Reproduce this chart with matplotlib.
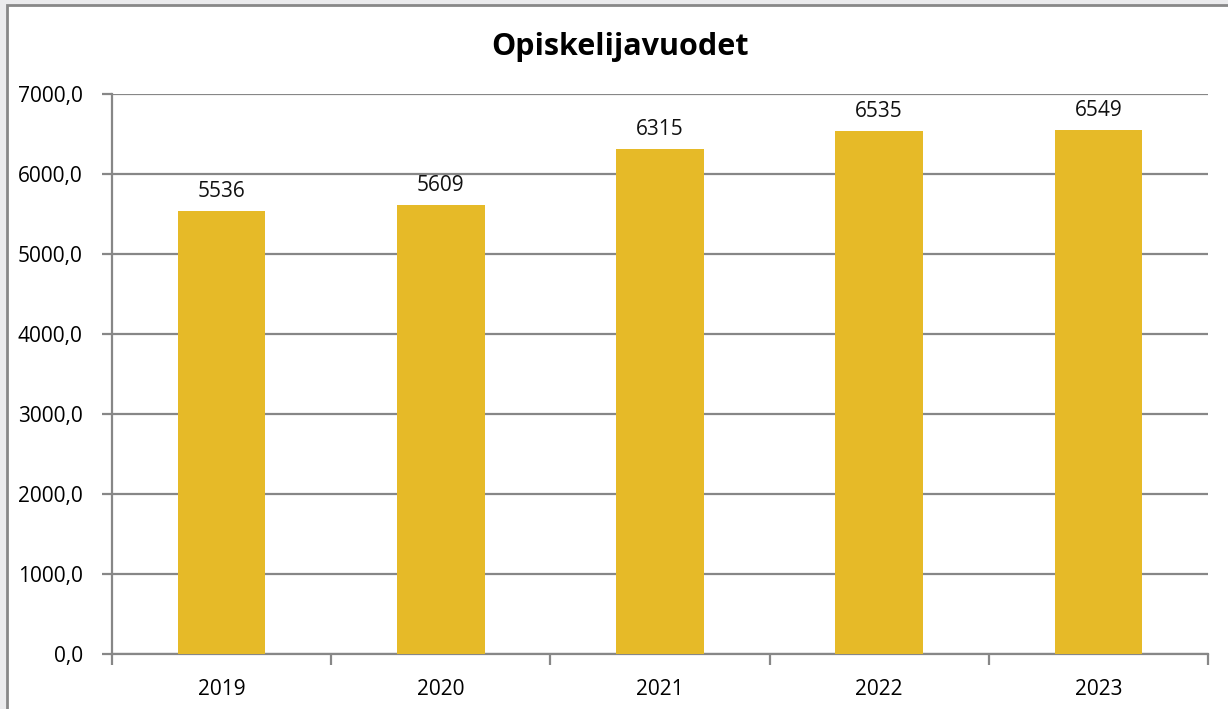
import matplotlib.pyplot as plt
from matplotlib.patches import Rectangle

years = ['2019', '2020', '2021', '2022', '2023']
values = [5536, 5609, 6315, 6535, 6549]
y_ticks = [0, 1000, 2000, 3000, 4000, 5000, 6000, 7000]

plt.rcParams['font.family'] = ['Open Sans', 'DejaVu Sans']

fig = plt.figure(figsize=(12.28, 7.09), dpi=100)
fig.patch.set_facecolor('#EBEBED')

# white chart frame with gray border (cropped at right and bottom)
frame = Rectangle((7 / 1228, -0.05), 1.1, 1 - 5 / 709 + 0.05, transform=fig.transFigure,
                  facecolor='white', edgecolor='#888888', linewidth=2, zorder=-10)
fig.patches.append(frame)

ax = fig.add_axes([112 / 1228, 1 - 654 / 709, (1208 - 112) / 1228, (654 - 94) / 709])
ax.set_facecolor('none')

x = list(range(len(years)))
ax.bar(x, values, width=0.4, color='#E6BA28', zorder=3)
for xi, v in zip(x, values):
    ax.text(xi, v + 110, str(v), ha='center', va='bottom', fontsize=15, color='#111111')

ax.set_xlim(-0.5, len(years) - 0.5)
ax.set_ylim(0, 7000)
ax.set_yticks(y_ticks)
ax.set_yticklabels(['{:.1f}'.format(t).replace('.', ',') for t in y_ticks], fontsize=15)
ax.yaxis.grid(True, color='#878787', linewidth=1.6, zorder=1)

ax.set_xticks(x)
ax.set_xticklabels(years, fontsize=15)
ax.set_xticks([i - 0.5 for i in range(len(years) + 1)], minor=True)
ax.tick_params(axis='x', which='major', length=0, pad=18)
ax.tick_params(axis='x', which='minor', length=8, width=1.6, color='#878787')
ax.tick_params(axis='y', length=7, width=1.6, color='#878787', pad=14)

for side in ['top', 'right']:
    ax.spines[side].set_visible(False)
for side in ['left', 'bottom']:
    ax.spines[side].set_color('#878787')
    ax.spines[side].set_linewidth(1.6)

fig.text(620 / 1228, 1 - 47 / 709, 'Opiskelijavuodet', ha='center', va='center',
         fontsize=22, fontweight='bold')

fig.savefig('out.png', dpi=100, facecolor=fig.get_facecolor())
